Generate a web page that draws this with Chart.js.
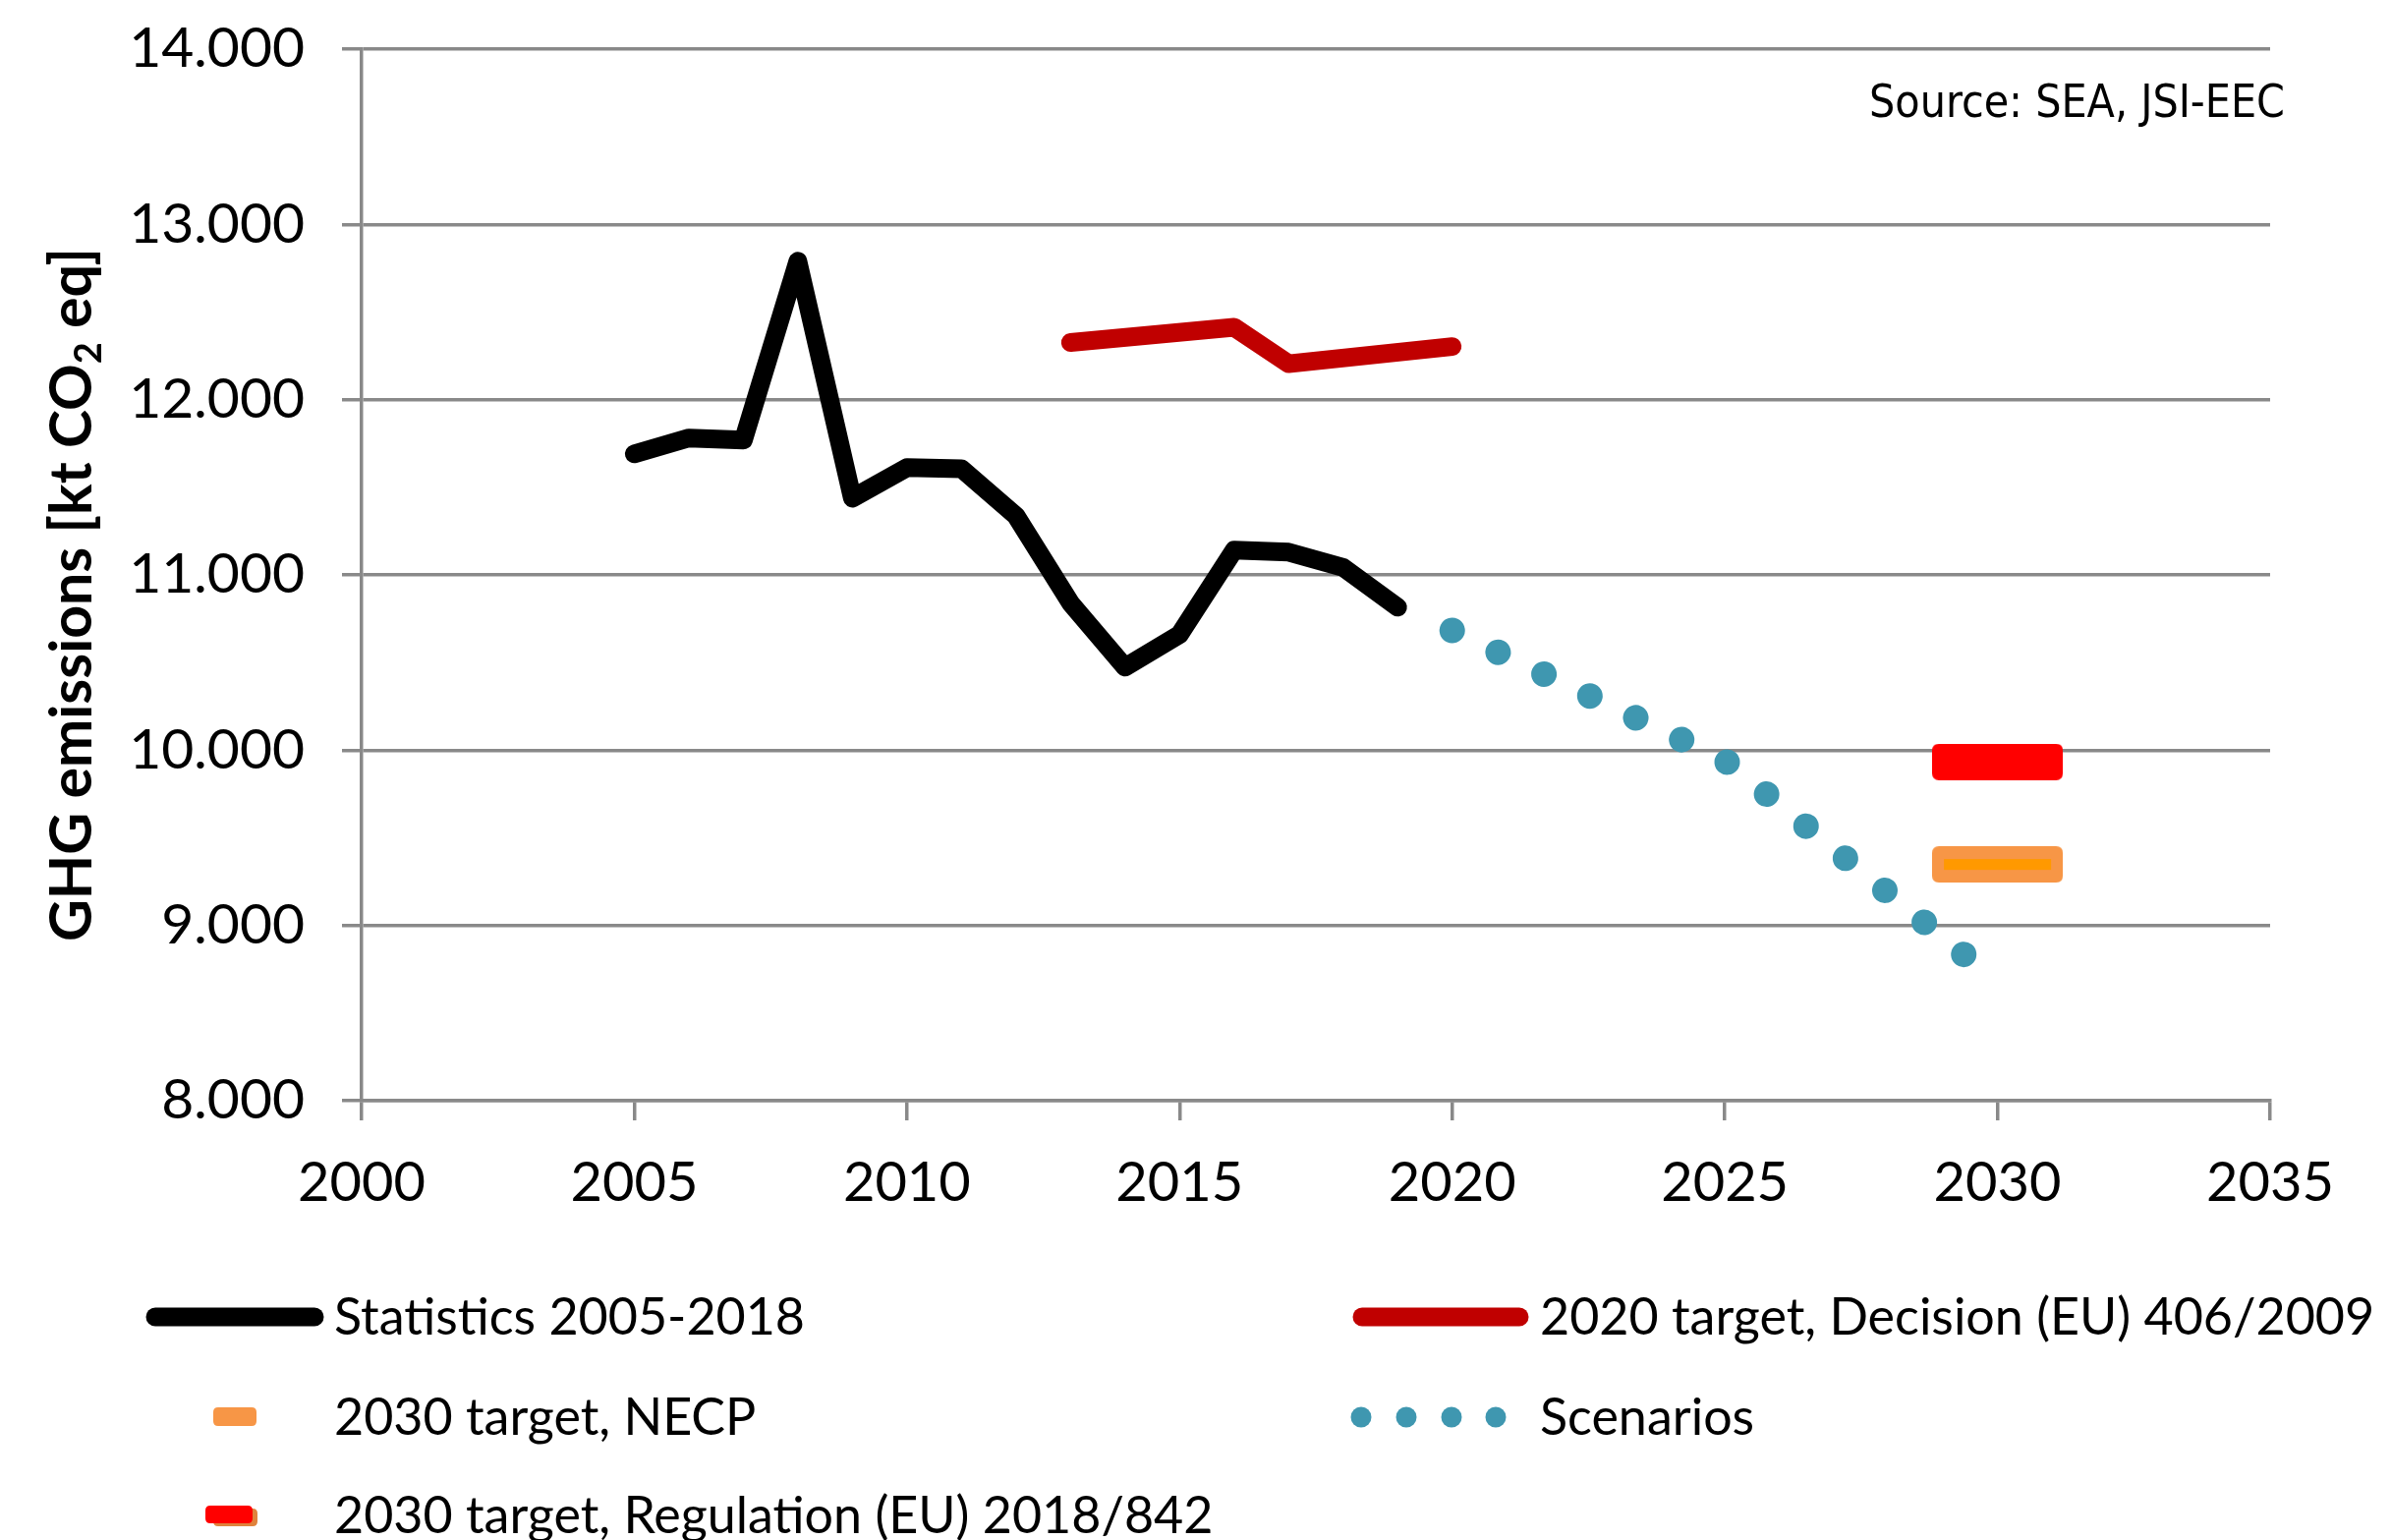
<!DOCTYPE html>
<html>
<head>
<meta charset="utf-8">
<script src="https://cdn.jsdelivr.net/npm/chart.js@4.4.1/dist/chart.umd.min.js"></script>
<style>
html,body{margin:0;padding:0;background:#fff;overflow:hidden}
#wrap{width:2433px;height:1567px;position:relative}
</style>
</head>
<body>
<div id="wrap"><canvas id="c" width="2433" height="1567"></canvas></div>
<script>
// ---------------- DATA ----------------
const seriesLabels = [
  'Statistics 2005-2018',
  '2020 target, Decision (EU) 406/2009',
  '2030 target, NECP',
  'Scenarios',
  '2030 target, Regulation (EU) 2018/842'
];
const statYears  = [2005, 2006, 2007, 2008, 2009, 2010, 2011, 2012, 2013, 2014, 2015, 2016, 2017, 2018, 2019];
const statValues = [11691, 11781, 11769, 12790, 11438, 11612, 11606, 11337, 10840, 10474, 10660, 11141, 11130, 11043, 10816];
const target2020Years  = [2013, 2016, 2017, 2020];
const target2020Values = [12326, 12413, 12205, 12303];
const scenarioYears  = [2020, 2025, 2030];
const scenarioValues = [10683, 9943, 8678];
const necpYears  = [2030];
const necpValues = [9348];
const regYears  = [2030];
const regValues = [9933];
const xTickValues = [2000, 2005, 2010, 2015, 2020, 2025, 2030, 2035];
const xTickLabels = ['2000', '2005', '2010', '2015', '2020', '2025', '2030', '2035'];
const yTickValues = [8000, 9000, 10000, 11000, 12000, 13000, 14000];
const yTickLabels = ['8.000', '9.000', '10.000', '11.000', '12.000', '13.000', '14.000'];
const yAxisTitle = ['GHG emissions [kt CO', '2', ' eq]'];
const sourceText = 'Source: SEA, JSI-EEC';

// ---------------- STYLES ----------------
const FONT = 'Lato';
const GRID = '#898989';
const C_BLACK = '#000000', C_RED = '#C00000', C_SCEN = '#3F97B0';
const C_NECP_OUT = '#F79646', C_NECP_IN = '#FF9900', C_REG = '#FF0000', C_REG_SHADOW = '#E0823C';

function rr(ctx, x, y, w, h, r) {
  ctx.beginPath();
  ctx.moveTo(x + r, y);
  ctx.lineTo(x + w - r, y);
  ctx.quadraticCurveTo(x + w, y, x + w, y + r);
  ctx.lineTo(x + w, y + h - r);
  ctx.quadraticCurveTo(x + w, y + h, x + w - r, y + h);
  ctx.lineTo(x + r, y + h);
  ctx.quadraticCurveTo(x, y + h, x, y + h - r);
  ctx.lineTo(x, y + r);
  ctx.quadraticCurveTo(x, y, x + r, y);
  ctx.closePath();
}
function makeMarker(outer, inner) {
  const cv = document.createElement('canvas');
  cv.width = 133; cv.height = 37;
  const g = cv.getContext('2d');
  g.fillStyle = outer; rr(g, 0, 0, 133, 37, 7); g.fill();
  if (inner) { g.fillStyle = inner; g.fillRect(12, 13, 109, 11); }
  return cv;
}
const necpMarker = makeMarker(C_NECP_OUT, C_NECP_IN);
const regMarker = makeMarker(C_REG, null);

const toXY = (xs, ys) => xs.map((x, i) => ({ x: x, y: ys[i] }));

// ---------------- PLUGINS ----------------
const decorations = {
  id: 'decorations',
  afterDraw(chart) {
    const ctx = chart.ctx;
    ctx.save();
    // y axis title with subscript
    ctx.fillStyle = '#000';
    ctx.translate(93, 605);
    ctx.rotate(-Math.PI / 2);
    const parts = [
      { t: yAxisTitle[0], f: 'bold 59px ' + FONT, dy: 0 },
      { t: yAxisTitle[1], f: 'bold 38px ' + FONT, dy: 10 },
      { t: yAxisTitle[2], f: 'bold 59px ' + FONT, dy: 0 }
    ];
    let total = 0;
    parts.forEach(p => { ctx.font = p.f; p.w = ctx.measureText(p.t).width; total += p.w; });
    let x = -total / 2;
    ctx.textBaseline = 'alphabetic';
    ctx.textAlign = 'left';
    parts.forEach(p => { ctx.font = p.f; ctx.fillText(p.t, x, p.dy); x += p.w; });
    ctx.restore();

    // source
    ctx.save();
    ctx.fillStyle = '#000';
    ctx.font = '46px "DejaVu Sans Condensed", "DejaVu Sans"';
    ctx.textAlign = 'right';
    ctx.textBaseline = 'alphabetic';
    ctx.fillText(sourceText, 2325, 119);
    ctx.restore();

    // legend
    ctx.save();
    const colX = [340, 1567];
    const rowY = [1340, 1442, 1542];
    const baseY = [1358, 1460, 1560];
    const items = [
      { i: 0, c: 0, r: 0, kind: 'line', x1: 158, x2: 320 },
      { i: 1, c: 1, r: 0, kind: 'line', x1: 1386, x2: 1546 },
      { i: 2, c: 0, r: 1, kind: 'necp' },
      { i: 3, c: 1, r: 1, kind: 'dots' },
      { i: 4, c: 0, r: 2, kind: 'reg' }
    ];
    items.forEach(it => {
      const ds = chart.data.datasets[it.i];
      const y = rowY[it.r];
      if (it.kind === 'line') {
        ctx.strokeStyle = ds.borderColor; ctx.lineWidth = 19; ctx.lineCap = 'round';
        ctx.beginPath(); ctx.moveTo(it.x1, y); ctx.lineTo(it.x2, y); ctx.stroke();
      } else if (it.kind === 'necp') {
        ctx.fillStyle = C_NECP_OUT; rr(ctx, 217, y - 10, 44, 19, 5); ctx.fill();
      } else if (it.kind === 'reg') {
        ctx.fillStyle = C_REG_SHADOW; rr(ctx, 217, y - 7, 45, 18, 5); ctx.fill();
        ctx.fillStyle = C_REG; rr(ctx, 209, y - 10, 48, 18, 5); ctx.fill();
      } else if (it.kind === 'dots') {
        ctx.fillStyle = ds.borderColor;
        [1385, 1431, 1477, 1522].forEach(cx => { ctx.beginPath(); ctx.arc(cx, y, 10.5, 0, Math.PI * 2); ctx.fill(); });
      }
      ctx.fillStyle = '#000';
      ctx.font = '52px ' + FONT;
      ctx.textAlign = 'left';
      ctx.textBaseline = 'alphabetic';
      ctx.fillText(ds.label, colX[it.c], baseY[it.r]);
    });
    ctx.restore();
  }
};

// ---------------- CHART ----------------
new Chart(document.getElementById('c'), {
  type: 'line',
  data: {
    datasets: [
      { label: seriesLabels[0], data: toXY(statYears, statValues), borderColor: C_BLACK, backgroundColor: C_BLACK,
        borderWidth: 19, pointRadius: 0, borderCapStyle: 'round', borderJoinStyle: 'round', tension: 0, fill: false },
      { label: seriesLabels[1], data: toXY(target2020Years, target2020Values), borderColor: C_RED, backgroundColor: C_RED,
        borderWidth: 19, pointRadius: 0, borderCapStyle: 'round', borderJoinStyle: 'round', tension: 0, fill: false },
      { label: seriesLabels[2], data: toXY(necpYears, necpValues), showLine: false, pointStyle: necpMarker,
        pointRadius: 20, borderColor: C_NECP_OUT, backgroundColor: C_NECP_IN },
      { label: seriesLabels[3], data: toXY(scenarioYears, scenarioValues), borderColor: C_SCEN, backgroundColor: C_SCEN,
        borderWidth: 26, borderDash: [0.01, 51.7], borderCapStyle: 'round', borderJoinStyle: 'round', pointRadius: 0, tension: 0, fill: false },
      { label: seriesLabels[4], data: toXY(regYears, regValues), showLine: false, pointStyle: regMarker,
        pointRadius: 20, borderColor: C_REG, backgroundColor: C_REG }
    ]
  },
  options: {
    responsive: false,
    animation: false,
    events: [],
    devicePixelRatio: 1,
    layout: { padding: { left: 0, right: 123, top: 50, bottom: 317 } },
    plugins: { legend: { display: false }, tooltip: { enabled: false }, title: { display: false } },
    scales: {
      x: {
        type: 'linear', min: 2000, max: 2035,
        afterBuildTicks(scale) { scale.ticks = xTickValues.map(v => ({ value: v })); },
        afterFit(scale) { scale.height = 130; scale.paddingLeft = 0; scale.paddingRight = 0; },
        ticks: { font: { family: FONT, size: 56 }, color: '#000', padding: 30, maxRotation: 0,
          callback: v => xTickLabels[xTickValues.indexOf(v)] },
        grid: { display: true, drawOnChartArea: false, drawTicks: true, tickLength: 20, color: GRID, lineWidth: 3.5 },
        border: { display: true, color: GRID, width: 3.5 }
      },
      y: {
        type: 'linear', min: 8000, max: 14000,
        afterBuildTicks(scale) { scale.ticks = yTickValues.map(v => ({ value: v })); },
        afterFit(scale) { scale.width = 368; scale.paddingTop = 0; scale.paddingBottom = 0; },
        ticks: { font: { family: FONT, size: 57 }, color: '#000', padding: 38,
          callback: v => yTickLabels[yTickValues.indexOf(v)] },
        grid: { display: true, drawTicks: true, tickLength: 20, color: GRID, lineWidth: 3.5 },
        border: { display: true, color: GRID, width: 3.5 }
      }
    }
  },
  plugins: [decorations]
});
</script>
</body>
</html>
